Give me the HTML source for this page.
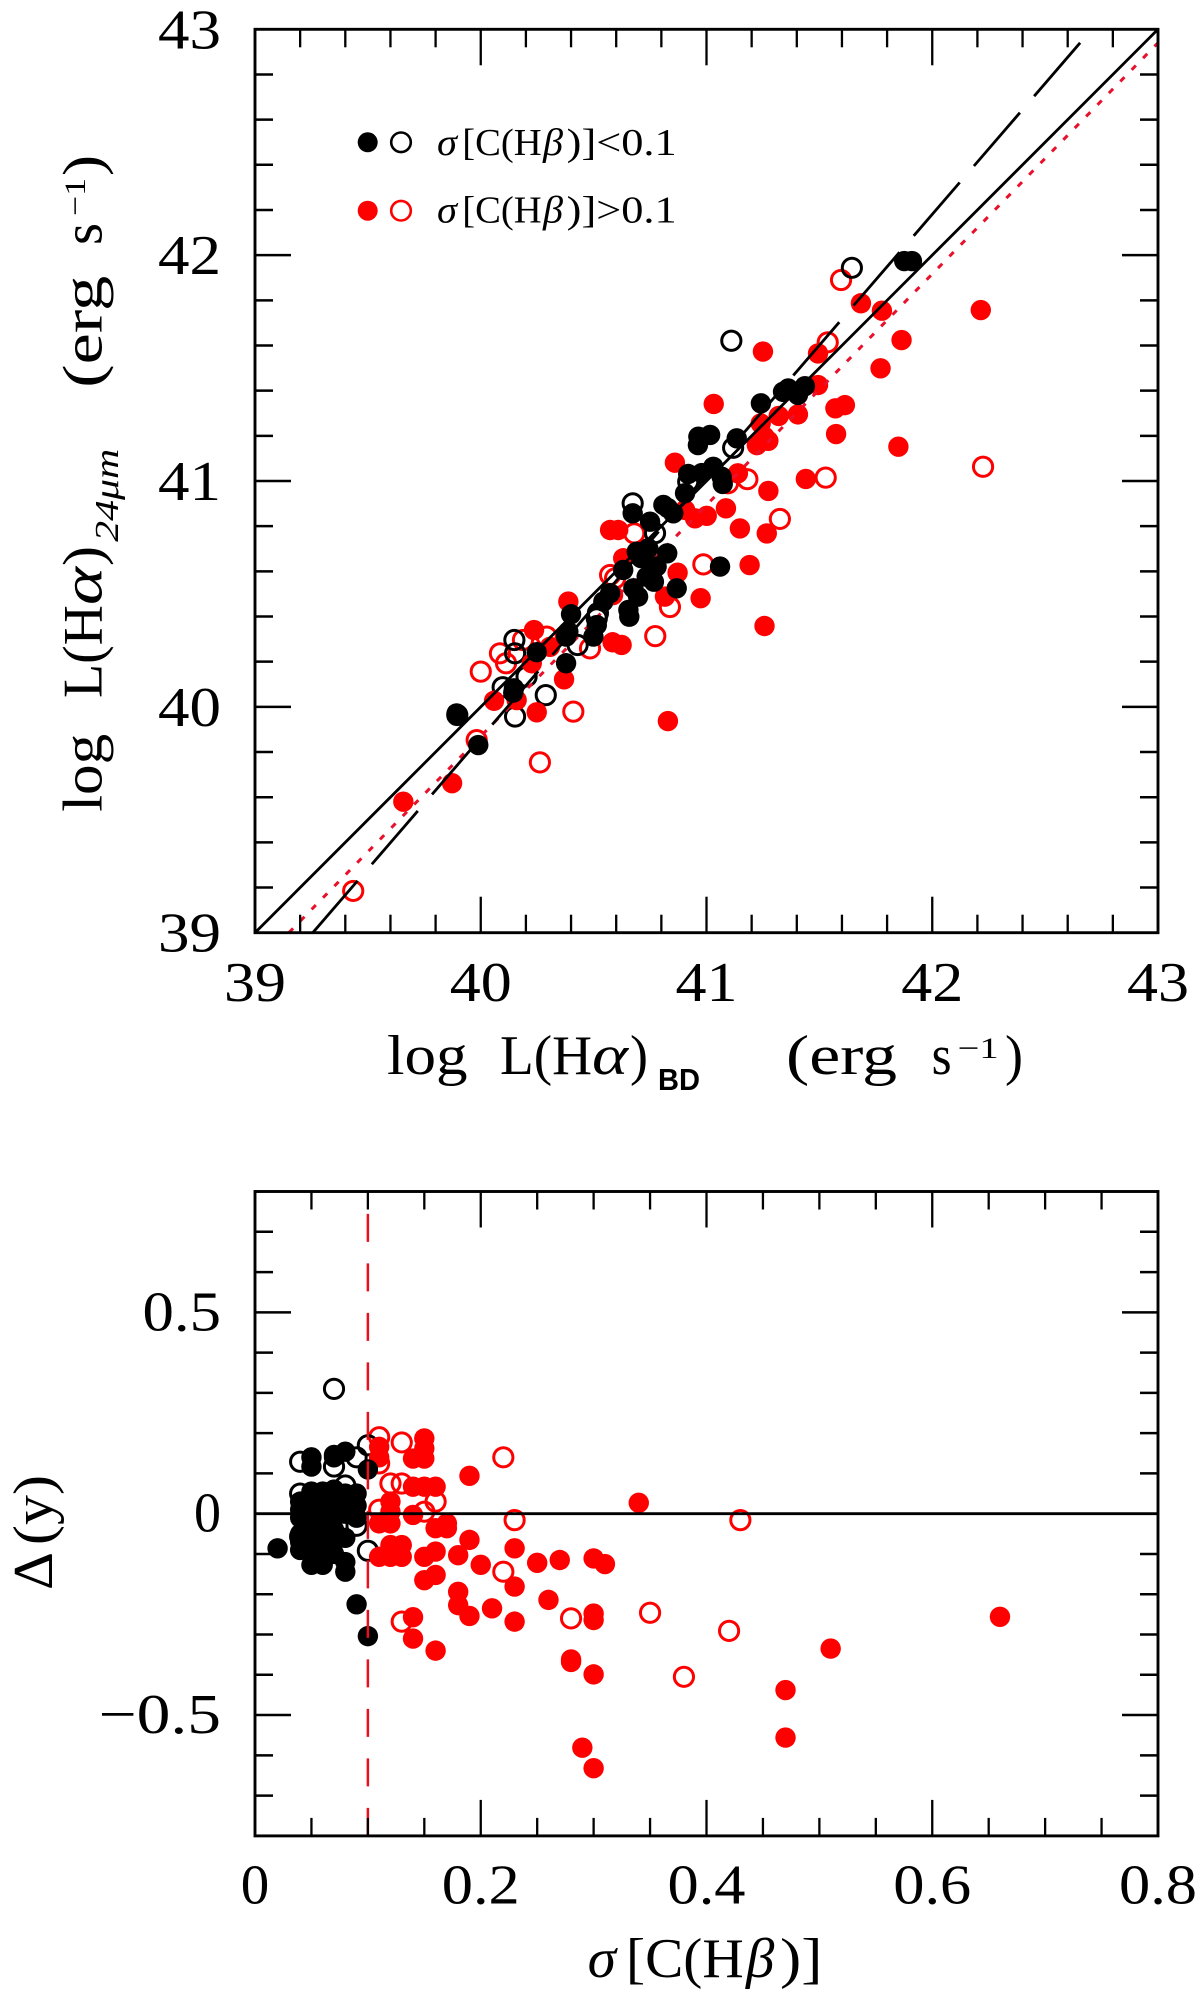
<!DOCTYPE html>
<html lang="en">
<head>
<meta charset="utf-8">
<title>Luminosity comparison chart</title>
<style>
html,body{margin:0;padding:0;background:#fff;}
svg{display:block;}
text{font-family:"Liberation Serif","DejaVu Serif",serif;fill:#000;}
</style>
</head>
<body>
<svg id="chart" xmlns="http://www.w3.org/2000/svg" width="1200" height="1992" viewBox="0 0 1200 1992">
<rect x="0" y="0" width="1200" height="1992" fill="#fff"/>
<g id="top-panel"></g>
<g id="bottom-panel"></g>

<g>
  <circle cx="367.7" cy="142.3" r="10"/>
  <circle cx="401" cy="142.3" r="9.8" fill="none" stroke="#000" stroke-width="2.6"/>
  <circle cx="367.7" cy="210.7" r="10" fill="#f00"/>
  <circle cx="401" cy="210.7" r="9.8" fill="none" stroke="#f00" stroke-width="2.6"/>
  <g font-size="38">
    <text x="437" y="155" font-style="italic" textLength="20" lengthAdjust="spacingAndGlyphs">σ</text>
    <text x="462.3" y="155" textLength="79.4" lengthAdjust="spacingAndGlyphs">[C(H</text>
    <text x="543" y="155" font-style="italic" textLength="20" lengthAdjust="spacingAndGlyphs">β</text>
    <text x="566.7" y="155" textLength="110" lengthAdjust="spacingAndGlyphs">)]&lt;0.1</text>
  </g>
  <g font-size="38">
    <text x="437" y="222.7" font-style="italic" textLength="20" lengthAdjust="spacingAndGlyphs">σ</text>
    <text x="462.3" y="222.7" textLength="79.4" lengthAdjust="spacingAndGlyphs">[C(H</text>
    <text x="543" y="222.7" font-style="italic" textLength="20" lengthAdjust="spacingAndGlyphs">β</text>
    <text x="566.7" y="222.7" textLength="110" lengthAdjust="spacingAndGlyphs">)]&gt;0.1</text>
  </g>
</g>

<g font-size="56">
  <text x="387" y="1074" textLength="80.6" lengthAdjust="spacingAndGlyphs">log</text>
  <text x="500" y="1074" textLength="92" lengthAdjust="spacingAndGlyphs">L(H</text>
  <text x="592" y="1074" font-style="italic" textLength="36" lengthAdjust="spacingAndGlyphs">α</text>
  <text x="630" y="1074" textLength="18" lengthAdjust="spacingAndGlyphs">)</text>
  <text x="658" y="1090" font-size="31" font-weight="bold" style="font-family:'Liberation Sans',sans-serif" textLength="42" lengthAdjust="spacingAndGlyphs">BD</text>
  <text x="786" y="1074" textLength="111" lengthAdjust="spacingAndGlyphs">(erg</text>
  <text x="931.6" y="1074" textLength="20" lengthAdjust="spacingAndGlyphs">s</text>
  <text x="957.6" y="1058" font-size="30" textLength="41" lengthAdjust="spacingAndGlyphs">−1</text>
  <text x="1005" y="1074" textLength="18" lengthAdjust="spacingAndGlyphs">)</text>
</g>

<g font-size="56">
  <text transform="translate(101.7,811.9) rotate(-90)" textLength="78" lengthAdjust="spacingAndGlyphs">log</text>
  <text transform="translate(101.7,698) rotate(-90)" textLength="93" lengthAdjust="spacingAndGlyphs">L(H</text>
  <text transform="translate(101.7,605) rotate(-90)" font-style="italic" textLength="38" lengthAdjust="spacingAndGlyphs">α</text>
  <text transform="translate(101.7,566) rotate(-90)" textLength="20" lengthAdjust="spacingAndGlyphs">)</text>
  <text transform="translate(118,541.8) rotate(-90)" font-size="34" font-style="italic" textLength="93" lengthAdjust="spacingAndGlyphs">24μm</text>
  <text transform="translate(101.7,387.8) rotate(-90)" textLength="112" lengthAdjust="spacingAndGlyphs">(erg</text>
  <text transform="translate(101.7,245) rotate(-90)" textLength="22" lengthAdjust="spacingAndGlyphs">s</text>
  <text transform="translate(85,216) rotate(-90)" font-size="30" textLength="38" lengthAdjust="spacingAndGlyphs">−1</text>
  <text transform="translate(101.7,176) rotate(-90)" textLength="21" lengthAdjust="spacingAndGlyphs">)</text>
</g>

<g font-size="56">
  <text x="587.6" y="1977" font-style="italic" textLength="28.4" lengthAdjust="spacingAndGlyphs">σ</text>
  <text x="626" y="1977" textLength="117.7" lengthAdjust="spacingAndGlyphs">[C(H</text>
  <text x="746" y="1977" font-style="italic" textLength="28.3" lengthAdjust="spacingAndGlyphs">β</text>
  <text x="780" y="1977" textLength="42.5" lengthAdjust="spacingAndGlyphs">)]</text>
</g>

<g font-size="56">
  <text transform="translate(52,1590) rotate(-90)" textLength="38" lengthAdjust="spacingAndGlyphs">Δ</text>
  <text transform="translate(52,1545) rotate(-90)" textLength="70" lengthAdjust="spacingAndGlyphs">(y)</text>
</g>
</svg>

<script>
/* ---------- top panel data ---------- */
var topMajorTicks = [39, 40, 41, 42, 43];
var topTickLabels = ["39", "40", "41", "42", "43"];

var lineUnityX = [39, 43];
var lineUnityY = [39, 43];
var lineDashedX = [42.655, 39.256];
var lineDashedY = [42.94, 39];
var lineDottedX = [39.15, 43];
var lineDottedY = [39, 42.94];

var topBlackFilledX = [41.876,41.910,41.362,41.405,41.436,41.339,41.241,40.964,41.016,40.962,41.134,40.919,41.030,40.979,41.067,41.072,40.905,40.809,40.853,40.829,40.750,40.673,40.742,40.691,40.826,40.631,40.779,40.767,40.676,40.573,40.697,40.868,41.060,40.543,40.654,40.658,40.514,40.499,40.400,40.388,40.378,40.378,40.248,40.147,40.144,39.893,39.989,40.710,40.735];
var topBlackFilledY = [41.974,41.974,41.410,41.381,41.420,41.395,41.344,41.196,41.204,41.159,41.189,41.031,41.063,41.035,41.019,40.987,40.946,40.894,40.857,40.880,40.820,40.857,40.702,40.687,40.680,40.606,40.621,40.554,40.525,40.503,40.488,40.525,40.621,40.466,40.429,40.399,40.362,40.311,40.410,40.333,40.311,40.193,40.242,40.082,40.063,39.971,39.831,40.659,40.576];

var topBlackOpenX = [41.644,41.110,41.118,40.673,40.514,40.429,40.149,40.152,40.203,40.097,40.288,40.152,39.896,40.772,40.919,40.519];
var topBlackOpenY = [41.944,41.621,41.147,40.901,40.392,40.274,40.296,40.237,40.134,40.087,40.052,39.957,39.964,40.769,40.997,40.415];

var topRedFilledX = [41.684,41.777,42.215,41.864,41.250,41.494,41.771,41.494,41.032,41.613,41.571,41.405,41.320,41.240,41.574,41.257,41.274,41.223,41.850,40.860,41.139,41.440,41.274,40.949,41.001,41.086,40.905,41.148,41.267,40.573,40.609,41.191,40.872,40.974,40.816,40.388,40.631,41.257,40.829,40.236,40.307,40.369,40.584,40.624,40.586,40.226,40.059,40.159,40.248,39.873,39.657];
var topRedFilledY = [41.787,41.754,41.757,41.624,41.573,41.565,41.499,41.425,41.341,41.336,41.322,41.295,41.288,41.255,41.208,41.196,41.178,41.159,41.152,41.081,41.034,41.009,40.956,40.835,40.846,40.879,40.872,40.790,40.768,40.783,40.783,40.628,40.594,40.481,40.488,40.466,40.658,40.358,39.937,40.340,40.266,40.122,40.286,40.274,40.495,40.193,40.027,40.030,39.976,39.662,39.580];

var topRedOpenX = [41.596,41.537,42.225,41.528,41.181,41.095,41.325,40.680,40.986,40.573,40.595,40.484,40.410,40.292,40.000,40.085,40.112,39.982,40.262,40.187,39.435,40.838,40.773];
var topRedOpenY = [41.890,41.614,41.063,41.015,41.008,40.990,40.832,40.768,40.631,40.584,40.569,40.259,39.979,40.311,40.156,40.237,40.193,39.853,39.754,40.296,39.185,40.442,40.313];

/* ---------- bottom panel data ---------- */
var bottomXMajorTicks = [0, 0.2, 0.4, 0.6, 0.8];
var bottomXTickLabels = ["0", "0.2", "0.4", "0.6", "0.8"];
var bottomYMajorTicks = [0.5, 0, -0.5];
var bottomYTickLabels = ["0.5", "0", "\u22120.5"];

var thresholdX = [0.1, 0.1];
var thresholdY = [-0.8, 0.8];
var zeroLineX = [0, 0.8];
var zeroLineY = [0, 0];

var resBlackFilledX = [.02,.05,.05,.07,.08,.07,.10,.09,.10,.08,.08,.05,.06,.04,.04,.04,.04,.04,.04,.05,.05,.05,.05,.05,.05,.06,.06,.06,.06,.06,.06,.06,.07,.07,.07,.07,.07,.07,.07,.08,.08,.08,.08,.09,.09,.09];
var resBlackFilledY = [-.086,.14,.117,.146,.154,.14,.11,-.225,-.304,-.12,-.144,-.127,-.127,.03,.01,-.01,-.05,-.07,-.09,.055,.03,0,-.03,-.06,-.09,.055,.04,.01,-.02,-.05,-.08,-.10,.06,.04,.02,-.01,-.04,-.07,-.10,.05,.03,0,-.06,.05,.02,-.01];

var resBlackOpenX = [.07,.10,.04,.07,.09,.08,.04,.09,.04,.10];
var resBlackOpenY = [.31,.17,.129,.117,.14,.07,.05,-.03,-.057,-.092];

var resRedFilledX = [.11,.11,.15,.15,.14,.15,.19,.14,.15,.16,.12,.12,.11,.12,.14,.16,.17,.17,.11,.12,.12,.13,.13,.15,.16,.18,.19,.20,.15,.16,.18,.18,.19,.21,.23,.23,.14,.14,.16,.34,.23,.25,.27,.30,.31,.26,.30,.30,.28,.28,.30,.51,.66,.47,.47,.29,.30];
var resRedFilledY = [.166,.14,.187,.162,.137,.137,.094,.067,.067,.067,.03,.005,-.024,-.024,-.003,-.036,-.024,-.036,-.107,-.078,-.107,-.078,-.107,-.107,-.094,-.103,-.065,-.127,-.165,-.152,-.194,-.227,-.254,-.235,-.181,-.268,-.257,-.31,-.34,.027,-.086,-.122,-.115,-.111,-.125,-.214,-.248,-.264,-.368,-.362,-.399,-.335,-.256,-.438,-.556,-.581,-.632];

var resRedOpenX = [.11,.13,.22,.11,.12,.13,.16,.15,.11,.23,.22,.13,.43,.28,.35,.42,.38];
var resRedOpenY = [.19,.177,.14,.125,.075,.075,.03,.005,.01,-.016,-.144,-.268,-.016,-.26,-.246,-.291,-.405];

/* ---------- axis functions ---------- */
var NS = "http://www.w3.org/2000/svg";
function topXScale(v){ return 255 + (v - 39) * 225.75; }
function topYScale(v){ return 932.7 - (v - 39) * 225.85; }
function botXScale(v){ return 255 + v * 1128.75; }
function botYScale(v){ return 1513.7 - v * 402.7; }

function make(parent, tag){
  var el = document.createElementNS(NS, tag);
  parent.appendChild(el);
  return el;
}
function setLine(el, x1, y1, x2, y2, color, width){
  el.setAttribute("x1", x1);
  el.setAttribute("y1", y1);
  el.setAttribute("x2", x2);
  el.setAttribute("y2", y2);
  el.setAttribute("stroke", color);
  el.setAttribute("stroke-width", width);
}
function setLabel(el, left, base, width, str){
  el.setAttribute("x", left);
  el.setAttribute("y", base);
  el.setAttribute("font-size", "56");
  el.setAttribute("textLength", width);
  el.setAttribute("lengthAdjust", "spacingAndGlyphs");
  el.textContent = str;
}
function isMajor(v, list){
  for (var i = 0; i < list.length; i++) { if (Math.abs(list[i] - v) < 1e-6) return true; }
  return false;
}

/* frame + ticks for a panel */
function drawFrame(panel, L, R, T, B, xs, ys, xMin, xMax, xStep, yMin, yMax, yStep, xMajor, yMajor){
  var g = make(panel, "g");
  
  
  var v, i, n, len, t;
  n = Math.round((xMax - xMin) / xStep);
  for (i = 1; i < n; i++) {
    v = xMin + i * xStep;
    len = isMajor(v, xMajor) ? 36 : 18;
    t = make(g, "line");
    
    
    setLine(t, xs(v), B, xs(v), B - len, "#000", 2.3);
    t = make(g, "line");
    
    
    setLine(t, xs(v), T, xs(v), T + len, "#000", 2.3);
  }
  n = Math.round((yMax - yMin) / yStep);
  for (i = 1; i < n; i++) {
    v = yMin + i * yStep;
    len = isMajor(v, yMajor) ? 36 : 18;
    t = make(g, "line");
    
    
    setLine(t, L, ys(v), L + len, ys(v), "#000", 2.5);
    t = make(g, "line");
    
    
    setLine(t, R, ys(v), R - len, ys(v), "#000", 2.5);
  }
  var f = make(panel, "rect");
  
  
  f.setAttribute("x", L);
  f.setAttribute("y", T);
  f.setAttribute("width", R - L);
  f.setAttribute("height", B - T);
  f.setAttribute("fill", "none");
  f.setAttribute("stroke", "#000");
  f.setAttribute("stroke-width", "2.9");
}

function drawPoints(panel, name, xsData, ysData, xs, ys, color, open){
  var g = make(panel, "g");
  
  
  for (var i = 0; i < xsData.length; i++) {
    var c = make(g, "circle");
    
    
    c.setAttribute("cx", xs(xsData[i]));
    c.setAttribute("cy", ys(ysData[i]));
    if (open) {
      c.setAttribute("r", "9.6");
      c.setAttribute("fill", "none");
      c.setAttribute("stroke", color);
      c.setAttribute("stroke-width", "3");
    } else {
      c.setAttribute("r", "10.2");
      c.setAttribute("fill", color);
    }
  }
}

function drawSeriesLine(panel, name, xd, yd, xs, ys, color, width, dash){
  var l = make(panel, "line");
  
  
  setLine(l, xs(xd[0]), ys(yd[0]), xs(xd[1]), ys(yd[1]), color, width);
  if (dash) { l.setAttribute("stroke-dasharray", dash); }
}

/* ---------- top panel ---------- */
var topPanel = document.getElementById("top-panel");
drawPoints(topPanel, "series-red-open", topRedOpenX, topRedOpenY, topXScale, topYScale, "#f00", true);
drawPoints(topPanel, "series-black-open", topBlackOpenX, topBlackOpenY, topXScale, topYScale, "#000", true);
drawPoints(topPanel, "series-red-filled", topRedFilledX, topRedFilledY, topXScale, topYScale, "#f00", false);
drawSeriesLine(topPanel, "fit-line-red-dotted", lineDottedX, lineDottedY, topXScale, topYScale, "#e8102a", 3, "6 10.3");
drawSeriesLine(topPanel, "unity-line", lineUnityX, lineUnityY, topXScale, topYScale, "#000", 2.8, null);
drawSeriesLine(topPanel, "fit-line-black-dashed", lineDashedX, lineDashedY, topXScale, topYScale, "#000", 2.8, "70.4 21.8");
drawPoints(topPanel, "series-black-filled", topBlackFilledX, topBlackFilledY, topXScale, topYScale, "#000", false);
drawFrame(topPanel, 255, 1158, 29.3, 932.7, topXScale, topYScale, 39, 43, 0.2, 39, 43, 0.2, topMajorTicks, topMajorTicks);

var topLabels = make(topPanel, "g");


topMajorTicks.forEach(function(v, i){
  var tx = make(topLabels, "text");
  
  
  setLabel(tx, topXScale(v) - 31, 1001, 62, topTickLabels[i]);
  var ty = make(topLabels, "text");
  
  
  setLabel(ty, 158, topYScale(v) + 19, 63, topTickLabels[i]);
});

/* ---------- bottom panel ---------- */
var botPanel = document.getElementById("bottom-panel");
drawPoints(botPanel, "series-red-open", resRedOpenX, resRedOpenY, botXScale, botYScale, "#f00", true);
drawPoints(botPanel, "series-black-open", resBlackOpenX, resBlackOpenY, botXScale, botYScale, "#000", true);
drawPoints(botPanel, "series-red-filled", resRedFilledX, resRedFilledY, botXScale, botYScale, "#f00", false);
drawPoints(botPanel, "series-black-filled", resBlackFilledX, resBlackFilledY, botXScale, botYScale, "#000", false);
drawSeriesLine(botPanel, "threshold-line", thresholdX, thresholdY, botXScale, botYScale, "#e8101c", 2.5, "28 21.5");
drawSeriesLine(botPanel, "zero-line", zeroLineX, zeroLineY, botXScale, botYScale, "#000", 2.8, null);
drawFrame(botPanel, 255, 1158, 1191.5, 1835.9, botXScale, botYScale, 0, 0.8, 0.05, -0.8, 0.8, 0.1, bottomXMajorTicks, bottomYMajorTicks);

var botLabels = make(botPanel, "g");


bottomXMajorTicks.forEach(function(v, i){
  var w = bottomXTickLabels[i].length > 1 ? 78 : 28.5;
  var tx = make(botLabels, "text");
  
  
  setLabel(tx, botXScale(v) - w / 2, 1903.3, w, bottomXTickLabels[i]);
});
bottomYMajorTicks.forEach(function(v, i){
  var n = bottomYTickLabels[i].length;
  var w = n === 1 ? 27 : (n === 3 ? 78.5 : 122.5);
  var ty = make(botLabels, "text");
  
  
  setLabel(ty, 221 - w, botYScale(v) + 18, w, bottomYTickLabels[i]);
});
</script>
</body>
</html>
